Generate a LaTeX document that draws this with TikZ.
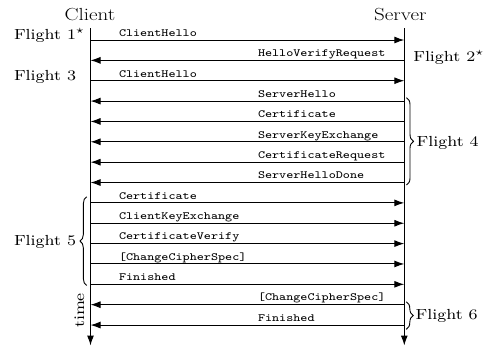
\documentclass[tikz,border=0pt]{standalone}
\usepackage{graphicx}
\usetikzlibrary{arrows.meta,decorations.pathreplacing}
\newcommand\msgtxt[1]{\scalebox{1.667}[1.375]{\fontsize{8}{10}\selectfont\ttfamily #1}}
\newcommand\flttxt[1]{\scalebox{2.11}[1.825]{\fontsize{8}{10}\selectfont #1}}
\newcommand\partytxt[1]{\scalebox{1.2}[1]{\fontsize{17.5}{20}\selectfont #1}}
\tikzset{
  every node/.style={inner sep=0pt, outer sep=0pt},
  ln/.style={line width=1pt},
  arr/.style={ln, -{Latex[length=10pt,width=7pt]}},
  brc/.style={line width=0.9pt, decorate, decoration={brace, amplitude=7pt}},
}
\begin{document}
\begin{tikzpicture}[x=1pt,y=-1pt]
\useasboundingbox (0,0) rectangle (484,349);
% parties
\node[anchor=base] (client) at (90,20.7) {\partytxt{Client}};
\node[anchor=base] (server) at (400.3,20.7) {\partytxt{Server}};
\coordinate (ctop) at (90.5,28);
\coordinate (cbot) at (90.5,345.5);
\coordinate (stop) at (404.3,28);
\coordinate (sbot) at (404.3,345.5);
\draw[arr] (ctop) -- (cbot);
\draw[arr] (stop) -- (sbot);
% client -> server
\foreach \i/\t in {0/ClientHello, 2/ClientHello, 8/Certificate, 9/ClientKeyExchange,
                   10/CertificateVerify, 11/{[ChangeCipherSpec]}, 12/Finished}{
  \pgfmathsetmacro\yy{40+20.36*\i}
  \coordinate (c\i) at (90.5,\yy);
  \coordinate (s\i) at (404.3,\yy);
  \draw[arr] (c\i) -- (s\i);
  \node[anchor=base west] (m\i) at (119,\yy-3.7) {\msgtxt{\t}};
}
% server -> client
\foreach \i/\t in {1/HelloVerifyRequest, 3/ServerHello, 4/Certificate, 5/ServerKeyExchange,
                   6/CertificateRequest, 7/ServerHelloDone, 13/{[ChangeCipherSpec]}, 14/Finished}{
  \pgfmathsetmacro\yy{40+20.36*\i}
  \coordinate (c\i) at (90.5,\yy);
  \coordinate (s\i) at (404.3,\yy);
  \draw[arr] (s\i) -- (c\i);
  \node[anchor=base west] (m\i) at (258,\yy-3.7) {\msgtxt{\t}};
}
% flights
\node[anchor=base east] (f1) at (76,39) {\flttxt{Flight 1}\rlap{\flttxt{$^\star$}}};
\node[anchor=base west] (f2) at (413.3,61) {\flttxt{Flight 2$^\star$}};
\node[anchor=base east] (f3) at (76,80) {\flttxt{Flight 3}};
\node[anchor=base west] (f4) at (416.7,146.7) {\flttxt{Flight 4}};
\node[anchor=base east] (f5) at (76,245.7) {\flttxt{Flight 5}};
\node[anchor=base west] (f6) at (415.7,319) {\flttxt{Flight 6}};
% braces
\coordinate (b4a) at (406.5,97.7);
\coordinate (b4b) at (406.5,185);
\coordinate (b5a) at (86.7,196.7);
\coordinate (b5b) at (86.7,285.5);
\coordinate (b6a) at (406.3,301.7);
\coordinate (b6b) at (406.3,329.3);
\draw[brc] (b4a) -- (b4b);
\draw[brc, decoration={brace,amplitude=6.7pt}] (b5b) -- (b5a);
\draw[brc] (b6a) -- (b6b);
% time
\node[rotate=90, anchor=base] (time) at (84,310.5) {\flttxt{time}};
\end{tikzpicture}
\end{document}
